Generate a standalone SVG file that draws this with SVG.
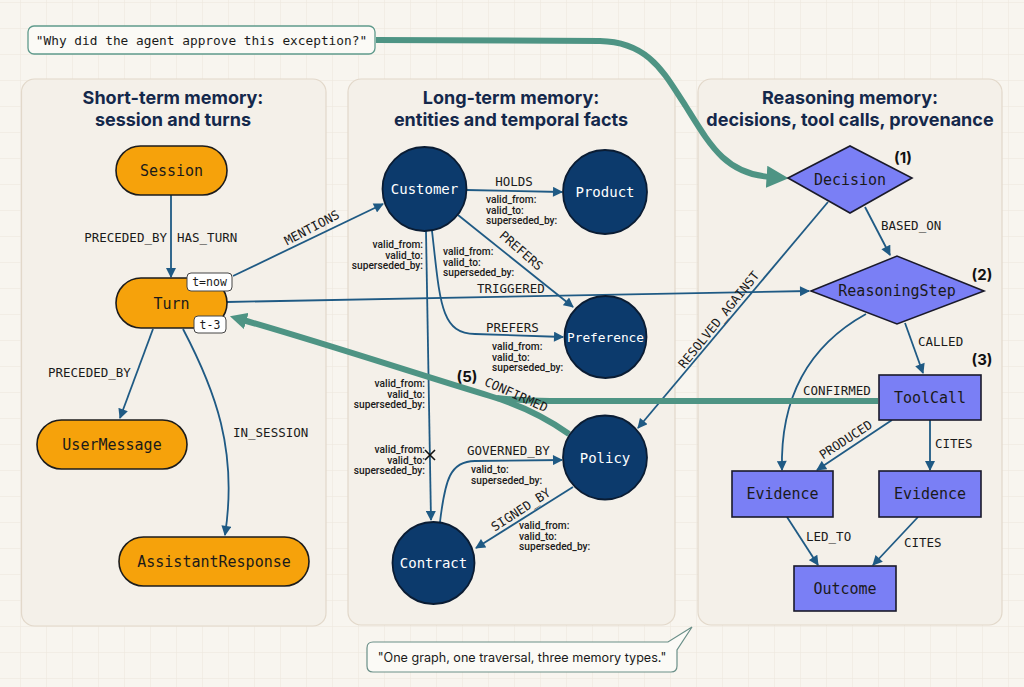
<svg xmlns="http://www.w3.org/2000/svg" width="1024" height="687" viewBox="0 0 1024 687">
<defs>
<pattern id="grid" x="20" y="2" width="26" height="26" patternUnits="userSpaceOnUse">
<path d="M0,0 L26,0 M0,0 L0,26" fill="none" stroke="#ece6db" stroke-width="1"/>
</pattern>
<marker id="arr" viewBox="0 0 10 10" refX="9" refY="5" markerWidth="11" markerHeight="10" markerUnits="userSpaceOnUse" orient="auto">
<path d="M0,0 L10,5 L0,10 z" fill="#1f5a84"/>
</marker>
<marker id="tealArr" viewBox="0 0 10 10" refX="2" refY="5" markerWidth="22" markerHeight="22" markerUnits="userSpaceOnUse" orient="auto">
<path d="M0,0 L10,5 L0,10 z" fill="#4e9484"/>
</marker>
<marker id="tealArrS" viewBox="0 0 10 10" refX="2" refY="5" markerWidth="17" markerHeight="17" markerUnits="userSpaceOnUse" orient="auto">
<path d="M0,0 L10,5 L0,10 z" fill="#4e9484"/>
</marker>
<style>
.panel{fill:#f4f0e9;stroke:#e2d8ca;stroke-width:1.2}
.title{font-family:Inter,"Noto Sans",sans-serif;font-weight:700;font-size:18px;fill:#14284b;text-anchor:middle}
.edge{fill:none;stroke:#1f5a84;stroke-width:1.8;marker-end:url(#arr)}
.teal{fill:none;stroke:#4e9484;stroke-width:6}
.lbl{font-family:"DejaVu Sans Mono","Liberation Mono",monospace;font-size:12.5px;fill:#1a1a1a}
.prop{font-family:Roboto,"Noto Sans",sans-serif;font-weight:500;font-size:10.2px;fill:#1a1a1a}
.num{font-family:Inter,"Noto Sans",sans-serif;font-weight:700;font-size:15px;fill:#111;text-anchor:middle}
.pill{fill:#f6a20b;stroke:#1c1c1c;stroke-width:1.6}
.circ{fill:#0c3a6c;stroke:#0a1c33;stroke-width:1.8}
.purp{fill:#7a7ff5;stroke:#1a1a2a;stroke-width:1.6}
.ntxt{font-family:"DejaVu Sans Mono","Liberation Mono",monospace;font-size:15px;fill:#1a1a1a;text-anchor:middle}
.ctxt{font-family:"DejaVu Sans Mono","Liberation Mono",monospace;font-size:14px;fill:#ffffff;text-anchor:middle}
.badge{fill:#ffffff;stroke:#444;stroke-width:1}
.btxt{font-family:"DejaVu Sans Mono","Liberation Mono",monospace;font-size:11.5px;fill:#1a1a1a;text-anchor:middle}
</style>
</defs>

<rect width="1024" height="687" fill="#f8f5ef"/>
<rect width="1024" height="687" fill="url(#grid)"/>

<g id="panels">
<rect class="panel" x="21.5" y="79" width="304.5" height="547" rx="13"/>
<rect class="panel" x="348" y="79" width="327" height="546" rx="13"/>
<rect class="panel" x="698" y="79" width="304" height="546" rx="13"/>
<text class="title" x="173" y="103.5">Short-term memory:</text>
<text class="title" x="173" y="125.5">session and turns</text>
<text class="title" x="511" y="104">Long-term memory:</text>
<text class="title" x="511" y="126">entities and temporal facts</text>
<text class="title" x="850" y="104">Reasoning memory:</text>
<text class="title" x="850" y="126">decisions, tool calls, provenance</text>
</g>

<g id="connectors">
<path class="edge" d="M171,195 L171,277"/>
<path class="edge" d="M153,329 L120,418"/>
<path class="edge" d="M183,329 C215,390 238,450 225,535"/>
<path class="edge" d="M233,276 L383,204"/>
<path class="edge" d="M227,302 L809,291"/>
<path class="edge" d="M466,190 L562,192"/>
<path class="edge" d="M458,215 L573,307"/>
<path class="edge" d="M426,231 L431,520"/>
<path class="edge" d="M432,231 C440,300 440,334 475,334 L563,337"/>
<path class="edge" d="M440,522 C445,480 450,461 475,461 L562,460"/>
<path class="edge" d="M573,487 L476,548"/>
<path class="edge" d="M865,207 L890,255"/>
<path class="edge" d="M828,202 L638,428"/>
<path class="edge" d="M905,323 L923,373"/>
<path class="edge" d="M866,314 C810,345 780,395 782,470"/>
<path class="edge" d="M892,420 L817,470"/>
<path class="edge" d="M930,420 L930,470"/>
<path class="edge" d="M787,517 L818,565"/>
<path class="edge" d="M918,517 L873,565"/>
<path d="M425,450 L435,460 M435,450 L425,460" stroke="#111" stroke-width="1.6" fill="none"/>

<path class="teal" d="M376,40 L600,41 C650,42 665,75 685,105 C710,145 725,174 771,177" marker-end="url(#tealArr)"/>
<path class="teal" d="M569,434 C545,417 520,405 490,396 C420,375 330,345 243,320" marker-end="url(#tealArrS)"/>
<path class="teal" d="M878,401 L550,401 C530,401 515,400 497,398" stroke-width="5"/>

<text class="lbl" x="167" y="242" text-anchor="end">PRECEDED_BY</text>
<text class="lbl" x="177" y="242">HAS_TURN</text>
<text class="lbl" x="48" y="377">PRECEDED_BY</text>
<text class="lbl" x="233" y="437">IN_SESSION</text>
<text class="lbl" text-anchor="middle" y="4" transform="translate(312,228) rotate(-27.7)">MENTIONS</text>
<text class="lbl" x="514" y="186" text-anchor="middle">HOLDS</text>
<text class="lbl" text-anchor="middle" y="4" transform="translate(521,251) rotate(41)">PREFERS</text>
<text class="lbl" x="477" y="293">TRIGGERED</text>
<text class="lbl" x="486" y="332">PREFERS</text>
<text class="lbl" x="467" y="455">GOVERNED_BY</text>
<text class="lbl" text-anchor="middle" y="4" transform="translate(521,510) rotate(-33)">SIGNED_BY</text>
<text class="num" x="467" y="382">(5)</text>
<text class="lbl" text-anchor="middle" y="4" transform="translate(516,395) rotate(24)">CONFIRMED</text>
<text class="lbl" x="881" y="230">BASED_ON</text>
<text class="lbl" text-anchor="middle" y="4" transform="translate(719,320) rotate(-51)">RESOLVED_AGAINST</text>
<text class="lbl" x="918" y="346">CALLED</text>
<text class="lbl" x="803" y="395">CONFIRMED</text>
<text class="lbl" text-anchor="middle" y="4" transform="translate(846,440) rotate(-33)">PRODUCED</text>
<text class="lbl" x="935" y="448">CITES</text>
<text class="lbl" x="806" y="541">LED_TO</text>
<text class="lbl" x="904" y="547">CITES</text>

<text class="prop" x="486" y="203">valid_from:</text>
<text class="prop" x="486" y="213.5">valid_to:</text>
<text class="prop" x="486" y="224">superseded_by:</text>
<text class="prop" x="443" y="255">valid_from:</text>
<text class="prop" x="443" y="265.5">valid_to:</text>
<text class="prop" x="443" y="276">superseded_by:</text>
<text class="prop" x="423" y="248" text-anchor="end">valid_from:</text>
<text class="prop" x="423" y="258.5" text-anchor="end">valid_to:</text>
<text class="prop" x="423" y="269" text-anchor="end">superseded_by:</text>
<text class="prop" x="492" y="350">valid_from:</text>
<text class="prop" x="492" y="360.5">valid_to:</text>
<text class="prop" x="492" y="371">superseded_by:</text>
<text class="prop" x="425" y="387" text-anchor="end">valid_from:</text>
<text class="prop" x="425" y="397.5" text-anchor="end">valid_to:</text>
<text class="prop" x="425" y="408" text-anchor="end">superseded_by:</text>
<text class="prop" x="425" y="453" text-anchor="end">valid_from:</text>
<text class="prop" x="425" y="463.5" text-anchor="end">valid_to:</text>
<text class="prop" x="425" y="474" text-anchor="end">superseded_by:</text>
<text class="prop" x="471" y="473">valid_to:</text>
<text class="prop" x="471" y="483.5">superseded_by:</text>
<text class="prop" x="519" y="529">valid_from:</text>
<text class="prop" x="519" y="539.5">valid_to:</text>
<text class="prop" x="519" y="550">superseded_by:</text>
</g>

<g id="callout-top">
<rect x="28" y="26" width="347" height="28" rx="6" fill="#fbfaf6" stroke="#5f9a8c" stroke-width="1.3"/>
<text class="lbl" x="201.5" y="44.5" text-anchor="middle" style="font-size:12.8px">"Why did the agent approve this exception?"</text>
</g>

<g id="node-session"><rect class="pill" x="116" y="146" width="111" height="49" rx="24.5"/><text class="ntxt" x="171.5" y="176">Session</text></g>
<g id="node-turn"><rect class="pill" x="116" y="278" width="111" height="50" rx="25"/><text class="ntxt" x="171.5" y="308.5">Turn</text>
<rect class="badge" x="187" y="273" width="45" height="18" rx="4"/><text class="btxt" x="209.5" y="286">t=now</text>
<rect class="badge" x="194" y="316" width="32" height="17" rx="4"/><text class="btxt" x="210" y="328.5">t-3</text></g>
<g id="node-usermessage"><rect class="pill" x="37" y="420" width="150" height="49" rx="24.5"/><text class="ntxt" x="112" y="450">UserMessage</text></g>
<g id="node-assistantresponse"><rect class="pill" x="119" y="537" width="190" height="49" rx="24.5"/><text class="ntxt" x="214" y="567">AssistantResponse</text></g>

<g id="node-customer"><circle class="circ" cx="424.5" cy="189" r="42"/><text class="ctxt" x="424.5" y="194">Customer</text></g>
<g id="node-product"><circle class="circ" cx="605" cy="192" r="42"/><text class="ctxt" x="605" y="197">Product</text></g>
<g id="node-preference"><circle class="circ" cx="605.5" cy="337" r="41"/><text class="ctxt" x="605.5" y="341.5" style="font-size:12.8px">Preference</text></g>
<g id="node-policy"><circle class="circ" cx="605" cy="457.5" r="42"/><text class="ctxt" x="605" y="462.5">Policy</text></g>
<g id="node-contract"><circle class="circ" cx="433.5" cy="563" r="41"/><text class="ctxt" x="433.5" y="568">Contract</text></g>

<g id="node-decision"><polygon class="purp" points="788,178 850,146 912,178 850,213"/><text class="ntxt" x="850" y="184.5">Decision</text><text class="num" x="903" y="163">(1)</text></g>
<g id="node-reasoningstep"><polygon class="purp" points="811,291 897,256 984,291 897,324"/><text class="ntxt" x="897" y="296">ReasoningStep</text><text class="num" x="982" y="280">(2)</text></g>
<g id="node-toolcall"><rect class="purp" x="879" y="375" width="102" height="45"/><text class="ntxt" x="930" y="402.5">ToolCall</text><text class="num" x="982" y="365">(3)</text></g>
<g id="node-evidence1"><rect class="purp" x="732" y="471" width="101" height="46"/><text class="ntxt" x="782.5" y="499">Evidence</text></g>
<g id="node-evidence2"><rect class="purp" x="879" y="471" width="102" height="46"/><text class="ntxt" x="930" y="499">Evidence</text></g>
<g id="node-outcome"><rect class="purp" x="794" y="566" width="102" height="45"/><text class="ntxt" x="845" y="593.5">Outcome</text></g>

<g id="callout-bottom">
<path d="M373,642 L668,642 L692,627 L677,650 L677,666 Q677,672 671,672 L373,672 Q367,672 367,666 L367,648 Q367,642 373,642 Z" fill="#fbfaf6" stroke="#6a8f88" stroke-width="1.2"/>
<text x="522" y="661.5" text-anchor="middle" style="font-family:Inter,'Noto Sans',sans-serif;font-size:12.6px;fill:#1a1a1a">"One graph, one traversal, three memory types."</text>
</g>
</svg>
